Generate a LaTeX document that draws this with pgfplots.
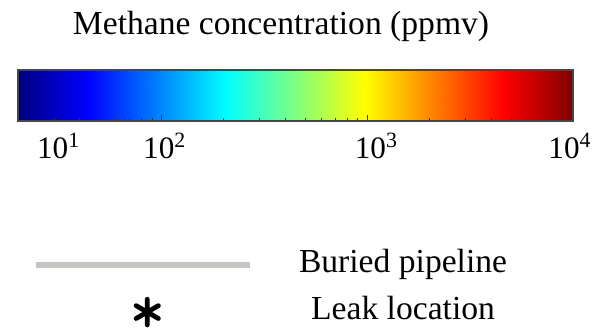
\documentclass[border=0pt]{standalone}
\usepackage{fontspec}
\setmainfont{Liberation Serif}
\usepackage{pgfplots}
\pgfplotsset{compat=1.18}
\definecolor{pipegray}{RGB}{196,197,192}
\definecolor{framegray}{RGB}{70,70,70}
\newcommand{\lblfont}{\fontsize{16.8bp}{20bp}\selectfont}
\newcommand{\tickfont}{\fontsize{15.6bp}{18bp}\selectfont}
\pgfplotsset{
  pipelegend/.code={\pgfplotsset{legend image code/.code={\draw[##1] (0bp,0bp) -- (107bp,0bp);}}},
  leaklegend/.code={\pgfplotsset{legend image code/.code={\draw[##1] plot[only marks] coordinates {(55.5bp,0bp)};}}},
}
\begin{document}
\begin{tikzpicture}
\useasboundingbox (0bp,0bp) rectangle (298.5bp,164.5bp);
\begin{axis}[
  at={(9bp,104bp)}, anchor=south west,
  scale only axis, width=277.5bp, height=25.5bp,
  xmode=log, xmin=20, xmax=10000, ymin=0, ymax=1,
  colormap/jet, point meta min=1.30103, point meta max=4,
  axis on top,
  axis line style={framegray, line width=0.6bp},
  ytick=\empty,
  xtick={100,1000,10000},
  xticklabels={10\textsuperscript{2},\hspace{6bp}10\textsuperscript{3},10\textsuperscript{4}\kern6bp\relax},
  minor xtick={30,40,50,60,70,80,90,200,300,400,500,600,700,800,900,2000,3000,4000,5000,6000,7000,8000,9000},
  extra x ticks={30.5},
  extra x tick labels={10\textsuperscript{1}},
  extra x tick style={major tick length=0pt},
  xtick pos=bottom, tick align=inside,
  major tick length=3bp, minor tick length=1.5bp,
  tick style={black!80, line width=0.5bp},
  xticklabel style={font=\tickfont, anchor=base, yshift=-18.5bp, xshift=1.5bp},
  title={Methane concentration (ppmv)},
  every axis title/.style={at={(0.4739,1)}, anchor=base, yshift=17.5bp, font=\lblfont},
  legend cell align=center,
  legend style={draw=none, fill=none, inner sep=0pt, outer sep=0pt,
    at={(0.02703,-2.529)}, anchor=north west,
    column sep=22.75bp, row sep=8.4bp, font=\lblfont,
    nodes={inner sep=0pt, text height=11.5bp, text depth=3.6bp}},
]
\addplot[surf, shader=interp, mesh/rows=2, point meta=\thisrow{m}, forget plot] table {
x y m
20 0 1.30103
10000 0 4
20 1 1.30103
10000 1 4
};
\addlegendimage{pipegray, line width=3.25bp, pipelegend}
\addlegendentry{Buried pipeline}
\addlegendimage{black, mark=asterisk, mark size=6.4bp,
  mark options={line width=2.4bp, line cap=round}, leaklegend}
\addlegendentry{Leak location}
\end{axis}
\end{tikzpicture}
\end{document}
